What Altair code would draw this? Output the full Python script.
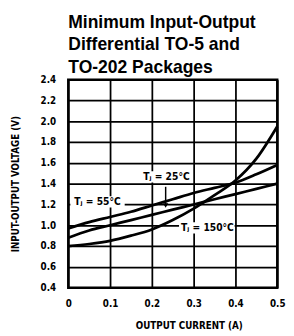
import altair as alt
import pandas as pd

current = [0, 0.05, 0.1, 0.15, 0.2, 0.25, 0.3, 0.35, 0.4, 0.45, 0.5]
v_m55 = [0.97, 1.03, 1.08, 1.13, 1.19, 1.25, 1.31, 1.36, 1.41, 1.49, 1.58]
v_25 = [0.88, 0.95, 1.00, 1.05, 1.10, 1.15, 1.20, 1.25, 1.30, 1.35, 1.40]
v_150 = [0.80, 0.82, 0.85, 0.90, 0.96, 1.05, 1.16, 1.29, 1.43, 1.64, 1.95]

x_ticks = [0, 0.1, 0.2, 0.3, 0.4, 0.5]
y_ticks = [0.4, 0.6, 0.8, 1.0, 1.2, 1.4, 1.6, 1.8, 2.0, 2.2, 2.4]

label_text = ["T\u2c7c = 55\u00b0C", "T\u2c7c = 25\u00b0C", "T\u2c7c = 150\u00b0C"]
label_x = [0.07, 0.235, 0.333]
label_y = [1.225, 1.465, 0.975]
box_x = [0.005, 0.185, 0.265]
box_x2 = [0.135, 0.29, 0.398]
box_y = [1.17, 1.41, 0.92]
box_y2 = [1.28, 1.52, 1.03]

arrow_x = [0.233]
arrow_y = [1.37]
arrow_y2 = [1.19]

FONT = "DejaVu Sans Condensed, Liberation Sans, sans-serif"

rows = []
for name, vals in [("m55", v_m55), ("25", v_25), ("150", v_150)]:
    for c, v in zip(current, vals):
        rows.append({"series": name, "current": c, "voltage": v})
df = pd.DataFrame(rows)

xs = alt.Scale(domain=[0, 0.5], nice=False)
ys = alt.Scale(domain=[0.4, 2.4], nice=False)

x_axis = alt.Axis(values=x_ticks, format=".1~f", title="OUTPUT CURRENT (A)",
                  grid=True, gridColor="black", gridWidth=1.8, gridOpacity=1,
                  domain=False, ticks=False, labelPadding=11, labelOverlap=False,
                  labelFont=FONT, labelFontWeight="bold", labelFontSize=10,
                  labelColor="black", titleFont=FONT, titleFontWeight="bold",
                  titleFontSize=10, titleColor="black", titleX=124, titleY=39,
                  titleBaseline="middle", labelFlush=False)
y_axis = alt.Axis(values=y_ticks, format=".1f", title="INPUT-OUTPUT VOLTAGE (V)",
                  grid=True, gridColor="black", gridWidth=1.8, gridOpacity=1,
                  domain=False, ticks=False, labelPadding=13, labelOverlap=False,
                  labelFont=FONT, labelFontWeight="bold", labelFontSize=10,
                  labelColor="black", titleFont=FONT, titleFontWeight="bold",
                  titleFontSize=10, titleColor="black", titleX=-54, titleY=107,
                  titleAlign="center", titleBaseline="middle", labelFlush=False)

lines = alt.Chart(df).mark_line(color="black", strokeWidth=2.8, interpolate="monotone").encode(
    x=alt.X("current:Q", scale=xs, axis=x_axis),
    y=alt.Y("voltage:Q", scale=ys, axis=y_axis),
    detail="series:N",
)

ldf = pd.DataFrame({"text": label_text, "x": label_x, "y": label_y,
                    "bx": box_x, "bx2": box_x2, "by": box_y, "by2": box_y2})

boxes = alt.Chart(ldf).mark_rect(color="white").encode(
    x=alt.X("bx:Q", scale=xs, axis=x_axis), x2="bx2:Q",
    y=alt.Y("by:Q", scale=ys, axis=y_axis), y2="by2:Q",
)
texts = alt.Chart(ldf).mark_text(font=FONT, fontWeight="bold", fontSize=10.5,
                                 color="black", align="center", baseline="middle").encode(
    x=alt.X("x:Q", scale=xs, axis=x_axis), y=alt.Y("y:Q", scale=ys, axis=y_axis),
    text="text:N")

adf = pd.DataFrame({"x": arrow_x, "y": arrow_y, "y2": arrow_y2})
arrow = alt.Chart(adf).mark_rule(color="black", strokeWidth=1.5).encode(
    x=alt.X("x:Q", scale=xs, axis=x_axis), y=alt.Y("y:Q", scale=ys, axis=y_axis), y2="y2:Q")
head = alt.Chart(adf).mark_point(shape="triangle-down", filled=True, color="black",
                                 size=30, opacity=1).encode(
    x=alt.X("x:Q", scale=xs, axis=x_axis), y=alt.Y("y2:Q", scale=ys, axis=y_axis))

chart = alt.layer(lines, boxes, texts, arrow, head).properties(
    width=215, height=214,
    title=alt.TitleParams(
        ["Minimum Input-Output", "Differential TO-5 and", "TO-202 Packages"],
        anchor="start", frame="group", font="Liberation Sans", fontWeight="bold",
        fontSize=18, lineHeight=23, color="black", offset=-2),
    autosize=alt.AutoSizeParams(type="none"),
    padding={"left": 62, "top": 69, "right": 9, "bottom": 45},
).configure_view(stroke="black", strokeWidth=2.5)

chart.save("out.html", embed_options={"renderer": "svg", "actions": False})
